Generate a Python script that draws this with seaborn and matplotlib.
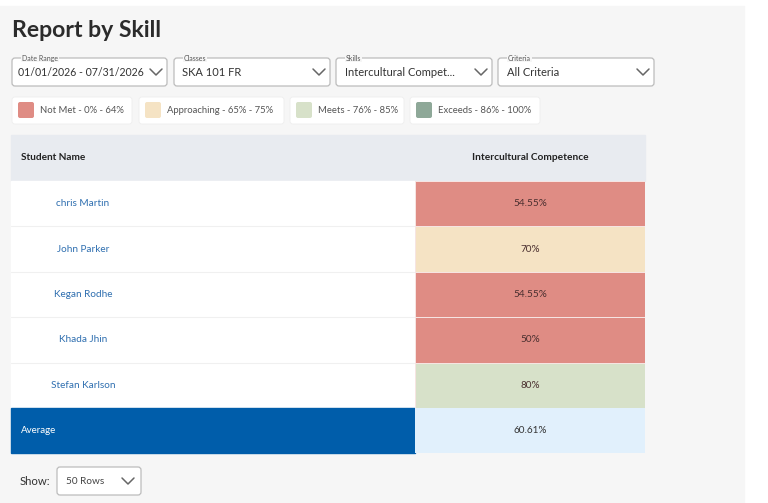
import numpy as np
import seaborn as sns
import matplotlib.pyplot as plt
from matplotlib.colors import ListedColormap, BoundaryNorm
from matplotlib.patches import Rectangle, FancyBboxPatch

# Data
students = ["chris Martin", "John Parker", "Kegan Rodhe", "Khada Jhin", "Stefan Karlson"]
scores = [54.55, 70, 54.55, 50, 80]
average_score = 60.61
skill = "Intercultural Competence"

# Performance bands
band_names = ["Not Met", "Approaching", "Meets", "Exceeds"]
band_ranges = ["0% - 64%", "65% - 75%", "76% - 85%", "86% - 100%"]
band_edges = [0, 65, 76, 86, 100.01]
band_colors = ["#df8c84", "#f5e3c4", "#d7e1c9", "#8ea898"]

# Filters
filter_labels = ["Date Range", "Classes", "Skills", "Criteria"]
filter_values = ["01/01/2026 - 07/31/2026", "SKA 101 FR", "Intercultural Compet...", "All Criteria"]

sns.set_theme(style="white")
plt.rcParams['font.family'] = ['Lato', 'DejaVu Sans']

W, H = 768, 503
fig = plt.figure(figsize=(W / 100, H / 100), dpi=100)
ax = fig.add_axes([0, 0, 1, 1])
ax.set_xlim(0, W)
ax.set_ylim(H, 0)
ax.axis("off")

# page background
ax.add_patch(Rectangle((0, 6), 744, H - 6, color="#f6f6f6", zorder=0))

ax.text(12, 30, "Report by Skill", fontsize=16.6, fontweight="bold", color="#2b2b2b", va="center")


def chevron(x, y, c="#666666"):
    ax.plot([x - 6, x, x + 6], [y - 3, y + 3, y - 3], color=c, lw=1.1, solid_capstyle="round")


# filter dropdowns
drop_x = [12, 174, 336, 498]
drop_w = [155, 156, 156, 156]
text_off = [6, 8, 9, 9]
text_size = [7.6, 8, 8, 8]
for lab, val, x0, w, off, fs in zip(filter_labels, filter_values, drop_x, drop_w, text_off, text_size):
    ax.add_patch(FancyBboxPatch((x0, 58), w, 28, boxstyle="round,pad=0,rounding_size=3",
                                fc="white", ec="#bcbcbc", lw=0.9, zorder=1))
    ax.text(x0 + 10, 58, lab, fontsize=5, color="#555555", va="center", zorder=3,
            bbox=dict(fc="#f6f6f6", ec="none", pad=0.6))
    ax.text(x0 + off, 72.5, val, fontsize=fs, color="#333333", va="center", zorder=3)
    chevron(x0 + w - 11, 72)

# legend chips
chip_x = [12, 139, 290, 410]
chip_w = [120, 145, 114, 130]
for name, rng, col, x0, w in zip(band_names, band_ranges, band_colors, chip_x, chip_w):
    ax.add_patch(FancyBboxPatch((x0, 97), w, 27, boxstyle="round,pad=0,rounding_size=3",
                                fc="white", ec="#eeeeee", lw=0.6, zorder=1))
    ax.add_patch(FancyBboxPatch((x0 + 6, 102), 16, 16, boxstyle="round,pad=0,rounding_size=2",
                                fc=col, ec="none", zorder=2))
    ax.text(x0 + 28, 110.5, f"{name} - {rng}", fontsize=6.8, color="#555555", va="center", zorder=3)

# table header
tx0, tx1, split = 11, 645, 415
head_top, head_bot = 135, 181
row_h = 45.4
ax.add_patch(Rectangle((tx0, head_top), tx1 - tx0, head_bot - head_top, color="#e8ebf0", zorder=1))
ax.text(21, 158, "Student Name", fontsize=7.2, fontweight="bold", color="#222222", va="center")
ax.text((split + tx1) / 2, 158, skill, fontsize=7.3, fontweight="bold", color="#222222",
        va="center", ha="center")

# student name column
rows_bot = head_bot + row_h * len(students)
ax.add_patch(Rectangle((tx0, head_bot), split - tx0, rows_bot - head_bot, color="white", zorder=1))
for i, name in enumerate(students):
    yc = head_bot + row_h * (i + 0.5)
    ax.text(83, yc, name, fontsize=7.2, color="#2f6fb0", ha="center", va="center", zorder=2)
    if i > 0:
        ax.plot([tx0, split], [head_bot + row_h * i] * 2, color="#f0f0f0", lw=0.8, zorder=2)

# average row
avg_bot = rows_bot + row_h
ax.add_patch(Rectangle((tx0, rows_bot), split - tx0, row_h, color="#005daa", zorder=1))
ax.text(21, rows_bot + row_h / 2, "Average", fontsize=7, color="white", va="center", zorder=2)

# score column as heatmap
cmap = ListedColormap(band_colors)
norm = BoundaryNorm(band_edges, cmap.N)
vals = np.array(scores).reshape(-1, 1)
labels = np.array([f"{v:g}%" for v in scores]).reshape(-1, 1)
hax = fig.add_axes([split / W, 1 - rows_bot / H, (tx1 - split) / W, (rows_bot - head_bot) / H])
sns.heatmap(vals, ax=hax, cmap=cmap, norm=norm, annot=labels, fmt="", cbar=False,
            linewidths=0.4, linecolor="#f6e4e2",
            annot_kws={"fontsize": 7.2, "color": "#4a2f2f"},
            xticklabels=False, yticklabels=False)

aax = fig.add_axes([split / W, 1 - avg_bot / H, (tx1 - split) / W, row_h / H])
sns.heatmap(np.array([[average_score]]), ax=aax, cmap=ListedColormap(["#e1f0fc"]), cbar=False,
            annot=np.array([[f"{average_score:g}%"]]), fmt="",
            annot_kws={"fontsize": 7.2, "color": "#333333"},
            xticklabels=False, yticklabels=False)

# rows selector
ax.text(20, 481.5, "Show:", fontsize=8.2, color="#333333", va="center")
ax.add_patch(FancyBboxPatch((57, 467), 84, 28, boxstyle="round,pad=0,rounding_size=3",
                            fc="white", ec="#bcbcbc", lw=0.9, zorder=1))
ax.text(66, 481.5, "50 Rows", fontsize=7.2, color="#444444", va="center", zorder=2)
chevron(128, 481)

fig.savefig("out.png", dpi=100)
